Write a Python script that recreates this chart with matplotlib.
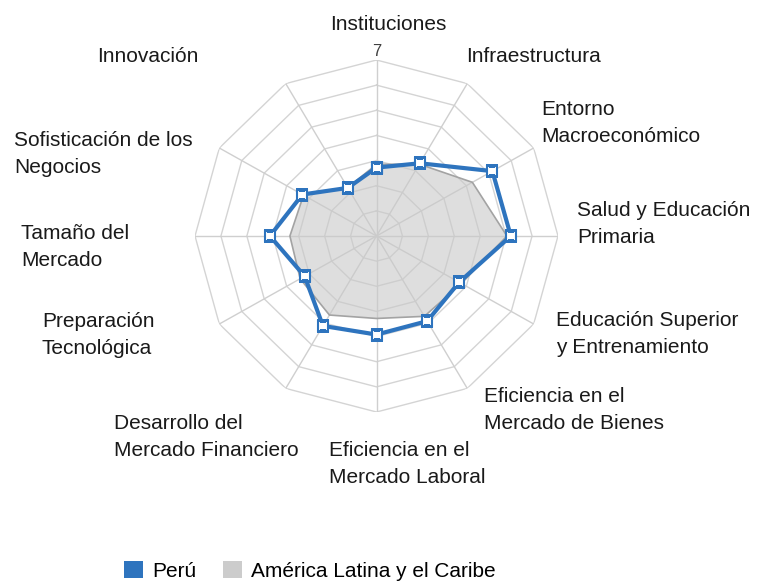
import numpy as np
import matplotlib
matplotlib.use("Agg")
import matplotlib.pyplot as plt
from matplotlib.patches import Patch

plt.rcParams['font.family'] = ['Liberation Sans', 'DejaVu Sans']

# datos
categorias = ['Instituciones', 'Infraestructura', 'Entorno\nMacroeconómico',
              'Salud y Educación\nPrimaria', 'Educación Superior\ny Entrenamiento',
              'Eficiencia en el\nMercado de Bienes', 'Eficiencia en el\nMercado Laboral',
              'Desarrollo del\nMercado Financiero', 'Preparación\nTecnológica',
              'Tamaño del\nMercado', 'Sofisticación de los\nNegocios', 'Innovación']
peru = [2.72, 3.34, 5.16, 5.18, 3.68, 3.91, 3.92, 4.13, 3.2, 4.11, 3.3, 2.21]
america_latina = [2.85, 3.3, 4.27, 5.03, 3.78, 3.69, 3.28, 3.63, 3.4, 3.34, 3.25, 2.22]
series = ['Perú', 'América Latina y el Caribe']
escala_max = 7

# posiciones de las etiquetas (pixeles de la figura) y alineacion
pos_etiquetas = [(388, 24, 'center'), (466, 57, 'left'), (541, 123, 'left'),
                 (577, 224, 'left'), (556, 334, 'left'), (484, 410, 'left'),
                 (329, 464, 'left'), (114, 437, 'left'), (42, 335, 'left'),
                 (21, 247, 'left'), (14, 154, 'left'), (97, 57, 'left')]

W, H = 758, 581
fig = plt.figure(figsize=(W / 100, H / 100), dpi=100)
cx, cy, rx, ry = 376.5, 236, 181.5, 176
ax = fig.add_axes([(cx - rx) / W, (H - cy - ry) / H, 2 * rx / W, 2 * ry / H],
                  projection='polar')
ax.set_aspect('auto')
ax.set_theta_offset(np.pi / 2)
ax.set_theta_direction(-1)
ax.set_ylim(0, escala_max)
ax.grid(False)
ax.spines['polar'].set_visible(False)
ax.set_xticks([])
ax.set_yticks([])
ax.patch.set_alpha(0)

n = len(categorias)
ang = np.linspace(0, 2 * np.pi, n, endpoint=False)
ang_c = np.append(ang, ang[0])

# rejilla en forma de dodecagono
for r in range(1, escala_max + 1):
    ax.plot(ang_c, [r] * (n + 1), color='#d4d4d4', lw=1.0, zorder=1)
for a in ang:
    ax.plot([a, a], [0, escala_max], color='#cfcfcf', lw=1.0, zorder=1)

# America Latina (area)
al = np.append(america_latina, america_latina[0])
ax.fill(ang_c, al, color='#c9c9c9', alpha=0.6, zorder=2, lw=0)
ax.plot(ang_c, al, color='#a3a3a3', lw=1.2, zorder=3)

# Peru (linea con marcadores)
pe = np.append(peru, peru[0])
ax.plot(ang_c, pe, color='#2e74be', lw=3, zorder=4,
        marker='s', markersize=7.5, markerfacecolor='white',
        markeredgecolor='#2e74be', markeredgewidth=1.5)

ax.text(0, escala_max + 0.05, str(escala_max), ha='center', va='bottom',
        fontsize=12, color='#404040')

for etiqueta, (x, y, al_h) in zip(categorias, pos_etiquetas):
    fig.text(x / W, 1 - y / H, etiqueta, ha=al_h, va='center', fontsize=15,
             color='#1a1a1a', linespacing=1.5)

handles = [Patch(facecolor='#2e74be', edgecolor='none'),
           Patch(facecolor='#cccccc', edgecolor='none')]
fig.legend(handles, series, loc='center', bbox_to_anchor=(310 / W, 1 - 571 / H),
           ncol=2, frameon=False, fontsize=15, handlelength=0.9, handleheight=0.9,
           columnspacing=1.25, handletextpad=0.45)

fig.savefig('out.png', dpi=100, facecolor='white')
